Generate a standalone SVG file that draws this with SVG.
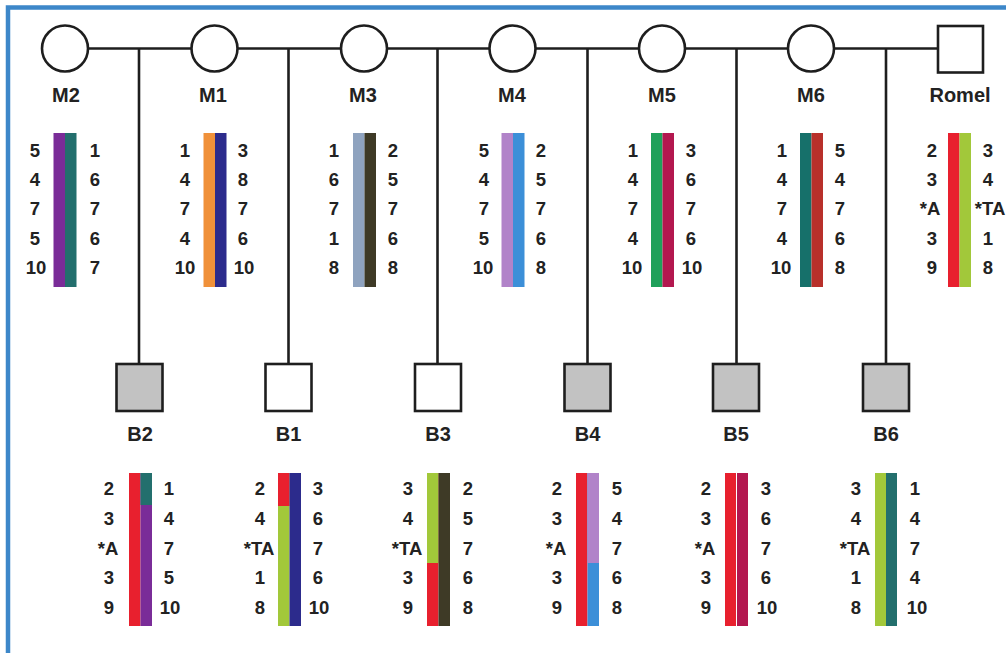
<svg xmlns="http://www.w3.org/2000/svg" width="1006" height="653" viewBox="0 0 1006 653">
  <defs>
    <style>
      .frame { fill: none; stroke: #3d87c9; stroke-width: 4.5; }
      .link { stroke: #1e1e1e; stroke-width: 2.6; fill: none; }
      .female { fill: #ffffff; stroke: #1e1e1e; stroke-width: 2.6; }
      .male { fill: #ffffff; stroke: #1e1e1e; stroke-width: 2.6; }
      .affected { fill: #c2c2c2; stroke: #1e1e1e; stroke-width: 2.6; }
      .label { font-family: "Liberation Sans", Arial, sans-serif; font-weight: bold; font-size: 20px; fill: #222; text-anchor: middle; }
      .num { font-family: "Liberation Sans", Arial, sans-serif; font-weight: bold; font-size: 18.5px; fill: #222; text-anchor: middle; }
      .c-purple { fill: #7a2c98; }
      .c-teal { fill: #236f6d; }
      .c-orange { fill: #f0913a; }
      .c-navy { fill: #2c2b8c; }
      .c-steel { fill: #8fa3bf; }
      .c-olive { fill: #3e3a26; }
      .c-lilac { fill: #b183c9; }
      .c-blue { fill: #3c8fd8; }
      .c-green { fill: #1fa05a; }
      .c-crimson { fill: #b3174f; }
      .c-teal2 { fill: #16706a; }
      .c-brick { fill: #b8302a; }
      .c-red { fill: #e8202e; }
      .c-lime { fill: #a2c83a; }
    </style>
  </defs>

  <rect width="1006" height="653" fill="#ffffff"/>
  <rect class="frame" x="8" y="7.5" width="1010" height="660"/>

  <!-- mating line and descent lines -->
  <g id="connectors">
    <line class="link" x1="65" y1="48.5" x2="938" y2="48.5"/>
    <line class="link" x1="139" y1="48.5" x2="139" y2="364"/>
    <line class="link" x1="288.5" y1="48.5" x2="288.5" y2="364"/>
    <line class="link" x1="437.5" y1="48.5" x2="437.5" y2="364"/>
    <line class="link" x1="587.5" y1="48.5" x2="587.5" y2="364"/>
    <line class="link" x1="736.5" y1="48.5" x2="736.5" y2="364"/>
    <line class="link" x1="886" y1="48.5" x2="886" y2="364"/>
  </g>

  <!-- mothers -->
  <g id="M2">
    <circle class="female" cx="65" cy="48.5" r="23"/>
    <text class="label" x="66" y="102">M2</text>
    <rect class="c-purple" x="53.5" y="133" width="11.5" height="154"/>
    <rect class="c-teal" x="65" y="133" width="11.5" height="154"/>
    <text class="num" x="35" y="157">5</text><text class="num" x="35" y="186">4</text><text class="num" x="35" y="215">7</text><text class="num" x="35" y="245">5</text><text class="num" x="36" y="274">10</text>
    <text class="num" x="95" y="157">1</text><text class="num" x="95" y="186">6</text><text class="num" x="95" y="215">7</text><text class="num" x="95" y="245">6</text><text class="num" x="95" y="274">7</text>
  </g>

  <g id="M1">
    <circle class="female" cx="214.5" cy="48.5" r="23"/>
    <text class="label" x="213" y="102">M1</text>
    <rect class="c-orange" x="203.5" y="133" width="11.5" height="154"/>
    <rect class="c-navy" x="215" y="133" width="11.5" height="154"/>
    <text class="num" x="185" y="157">1</text><text class="num" x="185" y="186">4</text><text class="num" x="185" y="215">7</text><text class="num" x="185" y="245">4</text><text class="num" x="185" y="274">10</text>
    <text class="num" x="243" y="157">3</text><text class="num" x="243" y="186">8</text><text class="num" x="243" y="215">7</text><text class="num" x="243" y="245">6</text><text class="num" x="244" y="274">10</text>
  </g>

  <g id="M3">
    <circle class="female" cx="364" cy="48.5" r="23"/>
    <text class="label" x="363" y="102">M3</text>
    <rect class="c-steel" x="353" y="133" width="11.5" height="154"/>
    <rect class="c-olive" x="364.5" y="133" width="11.5" height="154"/>
    <text class="num" x="334" y="157">1</text><text class="num" x="334" y="186">6</text><text class="num" x="334" y="215">7</text><text class="num" x="334" y="245">1</text><text class="num" x="334" y="274">8</text>
    <text class="num" x="393" y="157">2</text><text class="num" x="393" y="186">5</text><text class="num" x="393" y="215">7</text><text class="num" x="393" y="245">6</text><text class="num" x="393" y="274">8</text>
  </g>

  <g id="M4">
    <circle class="female" cx="512.5" cy="48.5" r="23"/>
    <text class="label" x="512" y="102">M4</text>
    <rect class="c-lilac" x="501.5" y="133" width="11.5" height="154"/>
    <rect class="c-blue" x="513" y="133" width="11.5" height="154"/>
    <text class="num" x="484" y="157">5</text><text class="num" x="484" y="186">4</text><text class="num" x="484" y="215">7</text><text class="num" x="484" y="245">5</text><text class="num" x="483" y="274">10</text>
    <text class="num" x="541" y="157">2</text><text class="num" x="541" y="186">5</text><text class="num" x="541" y="215">7</text><text class="num" x="541" y="245">6</text><text class="num" x="541" y="274">8</text>
  </g>

  <g id="M5">
    <circle class="female" cx="662" cy="48.5" r="23"/>
    <text class="label" x="662" y="102">M5</text>
    <rect class="c-green" x="651" y="133" width="11.5" height="154"/>
    <rect class="c-crimson" x="662.5" y="133" width="11.5" height="154"/>
    <text class="num" x="633" y="157">1</text><text class="num" x="633" y="186">4</text><text class="num" x="633" y="215">7</text><text class="num" x="633" y="245">4</text><text class="num" x="632" y="274">10</text>
    <text class="num" x="691" y="157">3</text><text class="num" x="691" y="186">6</text><text class="num" x="691" y="215">7</text><text class="num" x="691" y="245">6</text><text class="num" x="692" y="274">10</text>
  </g>

  <g id="M6">
    <circle class="female" cx="811" cy="48.5" r="23"/>
    <text class="label" x="811" y="102">M6</text>
    <rect class="c-teal2" x="800" y="133" width="11.5" height="154"/>
    <rect class="c-brick" x="811.5" y="133" width="11.5" height="154"/>
    <text class="num" x="782" y="157">1</text><text class="num" x="782" y="186">4</text><text class="num" x="782" y="215">7</text><text class="num" x="782" y="245">4</text><text class="num" x="781" y="274">10</text>
    <text class="num" x="840" y="157">5</text><text class="num" x="840" y="186">4</text><text class="num" x="840" y="215">7</text><text class="num" x="840" y="245">6</text><text class="num" x="840" y="274">8</text>
  </g>

  <!-- father -->
  <g id="Romel">
    <rect class="male" x="938" y="26" width="45" height="46.5"/>
    <text class="label" x="960" y="102">Romel</text>
    <rect class="c-red" x="948" y="133" width="11.5" height="154"/>
    <rect class="c-lime" x="959.5" y="133" width="11.5" height="154"/>
    <text class="num" x="932" y="157">2</text><text class="num" x="932" y="186">3</text><text class="num" x="930" y="215">*A</text><text class="num" x="932" y="245">3</text><text class="num" x="932" y="274">9</text>
    <text class="num" x="988" y="157">3</text><text class="num" x="988" y="186">4</text><text class="num" x="990" y="215">*TA</text><text class="num" x="988" y="245">1</text><text class="num" x="988" y="274">8</text>
  </g>

  <!-- offspring -->
  <g id="B2">
    <rect class="affected" x="116.5" y="364" width="46" height="47"/>
    <text class="label" x="140" y="441">B2</text>
    <rect class="c-red" x="129" y="473" width="11.5" height="153"/>
    <rect class="c-purple" x="140.5" y="473" width="11.5" height="153"/>
    <rect class="c-teal" x="140.5" y="473" width="11.5" height="32"/>
    <text class="num" x="109" y="495">2</text><text class="num" x="109" y="525">3</text><text class="num" x="108" y="555">*A</text><text class="num" x="109" y="584">3</text><text class="num" x="109" y="614">9</text>
    <text class="num" x="169" y="495">1</text><text class="num" x="169" y="525">4</text><text class="num" x="169" y="555">7</text><text class="num" x="169" y="584">5</text><text class="num" x="170" y="614">10</text>
  </g>

  <g id="B1">
    <rect class="male" x="265.5" y="364" width="46" height="47"/>
    <text class="label" x="288.5" y="441">B1</text>
    <rect class="c-lime" x="278" y="473" width="11.5" height="153"/>
    <rect class="c-red" x="278" y="473" width="11.5" height="33"/>
    <rect class="c-navy" x="289.5" y="473" width="11.5" height="153"/>
    <text class="num" x="260" y="495">2</text><text class="num" x="260" y="525">4</text><text class="num" x="259" y="555">*TA</text><text class="num" x="260" y="584">1</text><text class="num" x="260" y="614">8</text>
    <text class="num" x="318" y="495">3</text><text class="num" x="318" y="525">6</text><text class="num" x="318" y="555">7</text><text class="num" x="318" y="584">6</text><text class="num" x="319" y="614">10</text>
  </g>

  <g id="B3">
    <rect class="male" x="415" y="364" width="46" height="47"/>
    <text class="label" x="438" y="441">B3</text>
    <rect class="c-red" x="427" y="473" width="11.5" height="153"/>
    <rect class="c-lime" x="427" y="473" width="11.5" height="90"/>
    <rect class="c-olive" x="438.5" y="473" width="11.5" height="153"/>
    <text class="num" x="408" y="495">3</text><text class="num" x="408" y="525">4</text><text class="num" x="407" y="555">*TA</text><text class="num" x="408" y="584">3</text><text class="num" x="408" y="614">9</text>
    <text class="num" x="468" y="495">2</text><text class="num" x="468" y="525">5</text><text class="num" x="468" y="555">7</text><text class="num" x="468" y="584">6</text><text class="num" x="468" y="614">8</text>
  </g>

  <g id="B4">
    <rect class="affected" x="564.5" y="364" width="46" height="47"/>
    <text class="label" x="587.5" y="441">B4</text>
    <rect class="c-red" x="576" y="473" width="11.5" height="153"/>
    <rect class="c-blue" x="587.5" y="473" width="11.5" height="153"/>
    <rect class="c-lilac" x="587.5" y="473" width="11.5" height="90"/>
    <text class="num" x="557" y="495">2</text><text class="num" x="557" y="525">3</text><text class="num" x="556" y="555">*A</text><text class="num" x="557" y="584">3</text><text class="num" x="557" y="614">9</text>
    <text class="num" x="617" y="495">5</text><text class="num" x="617" y="525">4</text><text class="num" x="617" y="555">7</text><text class="num" x="617" y="584">6</text><text class="num" x="617" y="614">8</text>
  </g>

  <g id="B5">
    <rect class="affected" x="713" y="364" width="46" height="47"/>
    <text class="label" x="736" y="441">B5</text>
    <rect class="c-red" x="725" y="473" width="11" height="153"/>
    <rect class="c-crimson" x="737" y="473" width="11" height="153"/>
    <text class="num" x="706" y="495">2</text><text class="num" x="706" y="525">3</text><text class="num" x="705" y="555">*A</text><text class="num" x="706" y="584">3</text><text class="num" x="706" y="614">9</text>
    <text class="num" x="766" y="495">3</text><text class="num" x="766" y="525">6</text><text class="num" x="766" y="555">7</text><text class="num" x="766" y="584">6</text><text class="num" x="767" y="614">10</text>
  </g>

  <g id="B6">
    <rect class="affected" x="863" y="364" width="46" height="47"/>
    <text class="label" x="886" y="441">B6</text>
    <rect class="c-lime" x="875" y="473" width="11" height="153"/>
    <rect class="c-teal" x="886" y="473" width="11" height="153"/>
    <text class="num" x="856" y="495">3</text><text class="num" x="856" y="525">4</text><text class="num" x="855" y="555">*TA</text><text class="num" x="856" y="584">1</text><text class="num" x="856" y="614">8</text>
    <text class="num" x="915" y="495">1</text><text class="num" x="915" y="525">4</text><text class="num" x="915" y="555">7</text><text class="num" x="915" y="584">4</text><text class="num" x="917" y="614">10</text>
  </g>
</svg>
